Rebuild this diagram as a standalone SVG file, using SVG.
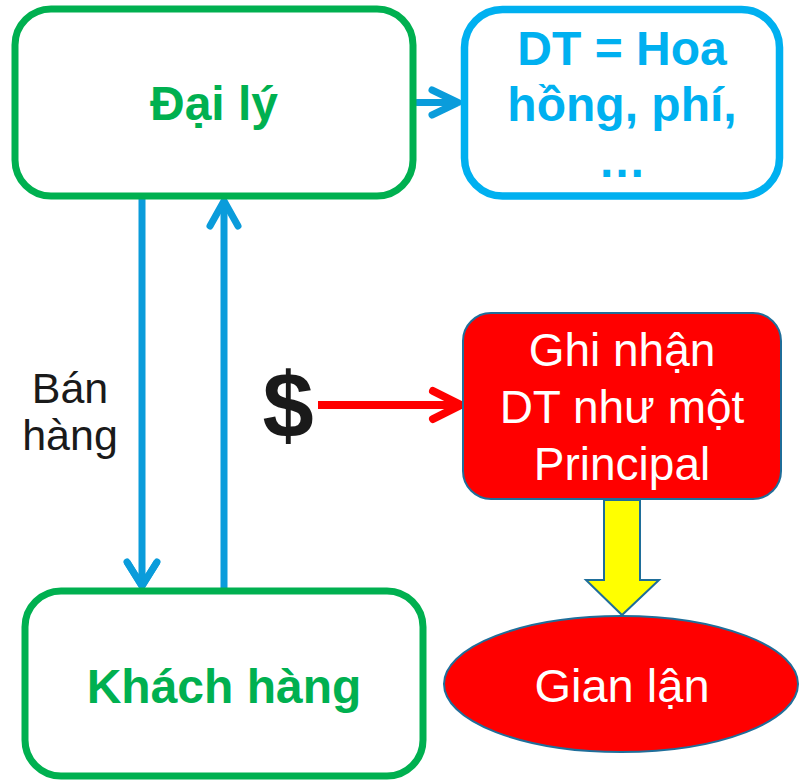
<svg xmlns="http://www.w3.org/2000/svg" width="800" height="781" viewBox="0 0 800 781">
<style>
.gbox{fill:#fff;stroke:#00B050;stroke-width:7}
.bbox{fill:#fff;stroke:#00B0F0;stroke-width:7.5}
.gt{font-family:"Liberation Sans",Arial,sans-serif;font-weight:bold;font-size:48px;fill:#00B050;text-anchor:middle}
.bt{font-family:"Liberation Sans",Arial,sans-serif;font-weight:bold;font-size:48px;fill:#00B0F0;text-anchor:middle}
.wt{font-family:"Liberation Sans",Arial,sans-serif;font-size:46px;fill:#fff;text-anchor:middle}
.lbl{font-family:"Liberation Sans",Arial,sans-serif;font-size:43px;fill:#1a1a1a;text-anchor:middle}
.conn{fill:none;stroke:#0A9CDB;stroke-width:7;stroke-linecap:round;stroke-linejoin:round}
.red{fill:none;stroke:#FF0000;stroke-width:8;stroke-linecap:round;stroke-linejoin:round}
.redshape{fill:#FF0000;stroke:#1F6E9A;stroke-width:2}
</style>
<g id="connectors">
<path class="conn" d="M417 102.5H458M432 90L458 102.5L432 115"/>
<path class="conn" d="M142 199V586M127 562L142 586L157 562" style="stroke-linecap:butt"/>
<path class="conn" d="M127 562L142 586L157 562"/>
<path class="conn" d="M224 590V201" style="stroke-linecap:butt"/>
<path class="conn" d="M210 226L224 201L238 226"/>
<path class="red" d="M318 405H461" style="stroke-linecap:butt"/>
<path class="red" d="M433 391L461 405L433 419"/>
<polygon points="604,500 640,500 640,580 659,580 622,615 586,580 604,580" fill="#FFFF00" stroke="#1F6E9A" stroke-width="2"/>
</g>
<g id="dai-ly">
<rect class="gbox" x="15" y="9" width="398" height="187" rx="36"/>
<text class="gt" x="214" y="120">Đại lý</text>
</g>
<g id="dt-hoa-hong">
<rect class="bbox" x="464.5" y="9.5" width="315" height="186.5" rx="38"/>
<text class="bt" x="622" y="65">DT = Hoa</text>
<text class="bt" x="622" y="121">hồng, phí,</text>
<text class="bt" x="622" y="177">…</text>
</g>
<g id="khach-hang">
<rect class="gbox" x="25" y="591" width="398" height="185" rx="36"/>
<text class="gt" x="224" y="703">Khách hàng</text>
</g>
<g id="ban-hang-label">
<text class="lbl" x="70" y="403">Bán</text>
<text class="lbl" x="70" y="450">hàng</text>
</g>
<g id="dollar">
<text x="288" y="437" font-family="'Liberation Sans',Arial,sans-serif" font-weight="bold" font-size="92" fill="#1a1a1a" text-anchor="middle">$</text>
</g>
<g id="ghi-nhan">
<rect class="redshape" x="463" y="313" width="318" height="186" rx="28"/>
<text class="wt" x="622" y="366">Ghi nhận</text>
<text class="wt" x="622" y="423">DT như một</text>
<text class="wt" x="622" y="480">Principal</text>
</g>
<g id="gian-lan">
<ellipse class="redshape" cx="621" cy="684" rx="177" ry="68"/>
<text class="wt" x="622" y="702" style="font-size:47px">Gian lận</text>
</g>
</svg>
